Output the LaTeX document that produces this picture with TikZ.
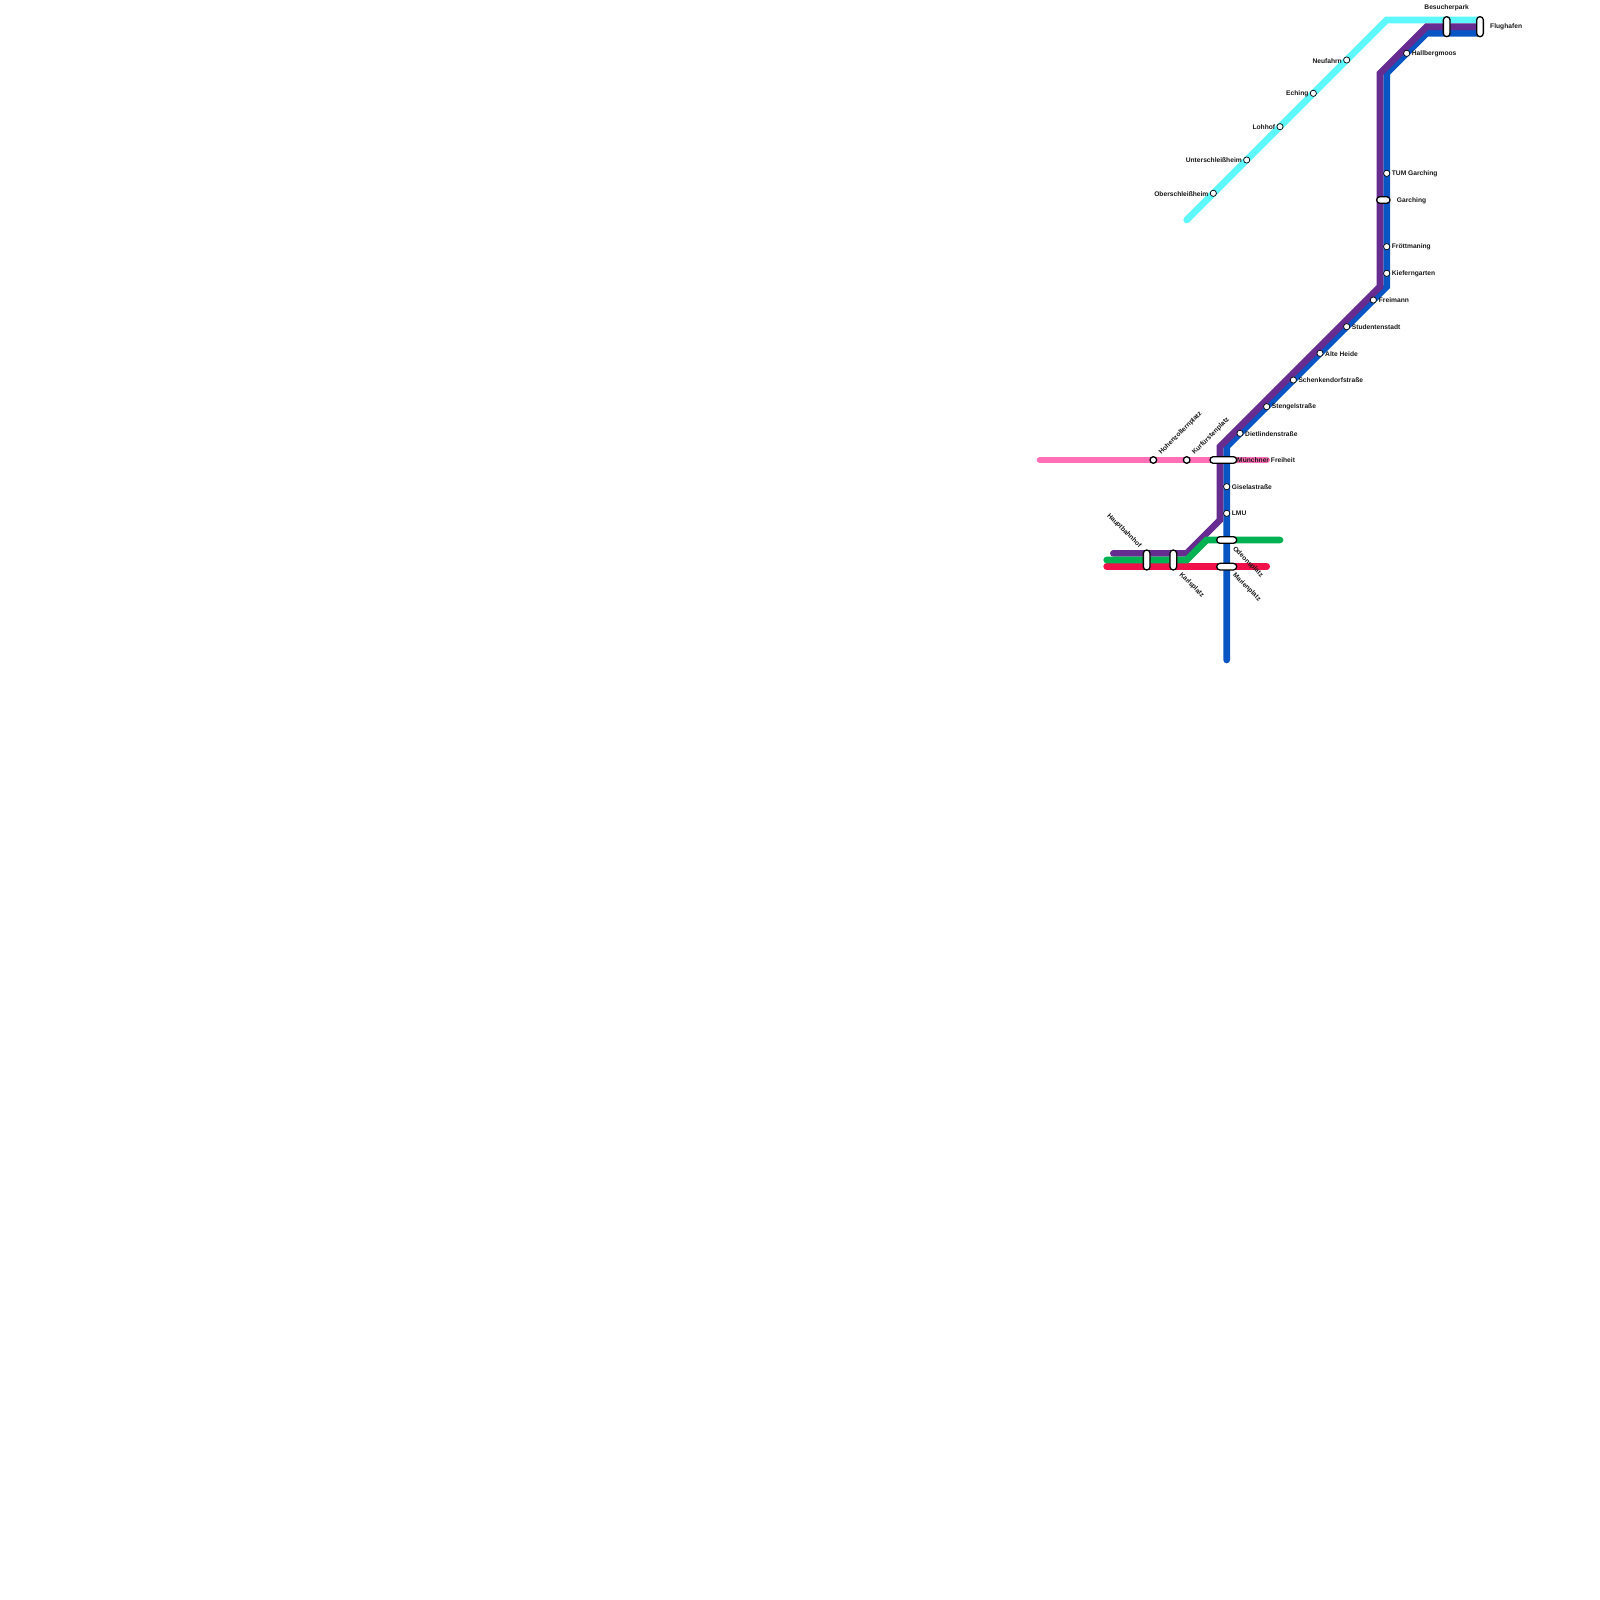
\documentclass[tikz,border=0pt]{standalone}
\usepackage{fontspec}
\setmainfont{Liberation Sans}
\definecolor{lcyan}{HTML}{5CF8FB}
\definecolor{lblue}{HTML}{0A55C4}
\definecolor{lpurple}{HTML}{662C90}
\definecolor{lpink}{HTML}{FF6FB5}
\definecolor{lgreen}{HTML}{00B251}
\definecolor{lred}{HTML}{F0104A}
\tikzset{
  x=1pt,y=-1pt,
  route/.style={line width=6.67pt,line cap=round,line join=miter,miter limit=10},
  stop/.style={circle,draw=black,fill=white,line width=0.7pt,minimum size=6.2pt,inner sep=0pt},
  stopb/.style={stop,line width=1.3pt,minimum size=6.6pt},
  hcap/.style={rectangle,rounded corners=3.3pt,draw=black,fill=white,line width=1.3pt,minimum width=20pt,minimum height=6.67pt,inner sep=0pt},
  vcap/.style={rectangle,rounded corners=3.3pt,draw=black,fill=white,line width=1.3pt,minimum width=6.67pt,minimum height=20pt,inner sep=0pt},
  lab/.style={font=\fontsize{6.67}{8}\selectfont\bfseries,text=black!90,inner sep=0pt,yshift=-0.7pt},
  labr/.style={lab,anchor=west},
  labl/.style={lab,anchor=east},
}
\begin{document}
\begin{tikzpicture}
\useasboundingbox (0,0) rectangle (1600,1600);
\fill[white] (0,0) rectangle (1600,1600);
% route corners
\coordinate (c1) at (1186.67,220);
\coordinate (c2) at (1386.67,20);
\coordinate (c3) at (1480,20);
\coordinate (b1) at (1480,33.33);
\coordinate (b2) at (1426.67,33.33);
\coordinate (b3) at (1386.67,73.33);
\coordinate (b4) at (1386.67,286.67);
\coordinate (b5) at (1226.67,446.67);
\coordinate (b6) at (1226.67,660);
\coordinate (p1) at (1480,26.67);
\coordinate (p2) at (1426.67,26.67);
\coordinate (p3) at (1380,73.33);
\coordinate (p4) at (1380,286.67);
\coordinate (p5) at (1220,446.67);
\coordinate (p6) at (1220,520);
\coordinate (p7) at (1186.67,553.33);
\coordinate (p8) at (1113.33,553.33);
\coordinate (k1) at (1040,460);
\coordinate (k2) at (1266.67,460);
\coordinate (g1) at (1106.67,560);
\coordinate (g2) at (1186.67,560);
\coordinate (g3) at (1206.67,540);
\coordinate (g4) at (1280,540);
\coordinate (r1) at (1106.67,566.67);
\coordinate (r2) at (1266.67,566.67);
% lines
\draw[route,lcyan] (c1) -- (c2) -- (c3);
\draw[route,lblue] (b1) -- (b2) -- (b3) -- (b4) -- (b5) -- (b6);
\draw[route,lpurple] (p1) -- (p2) -- (p3) -- (p4) -- (p5) -- (p6) -- (p7) -- (p8);
\draw[route,lpink] (k1) -- (k2);
\draw[route,lred] (r1) -- (r2);
\draw[route,lgreen] (g1) -- (g2) -- (g3) -- (g4);
% stations
\node[vcap] (flug) at (1480,26.67) {};
\node[vcap] (besu) at (1446.67,26.67) {};
\node[stop] (hall) at (1406.67,53.33) {};
\node[stop] (neuf) at (1346.67,60) {};
\node[stop] (echi) at (1313.33,93.33) {};
\node[stop] (lohh) at (1280,126.67) {};
\node[stop] (unte) at (1246.67,160) {};
\node[stop] (ober) at (1213.33,193.33) {};
\node[stop] (tumg) at (1386.67,173.33) {};
\node[hcap,minimum width=13.33pt] (garc) at (1383.33,200) {};
\node[stop] (froe) at (1386.67,246.67) {};
\node[stop] (kief) at (1386.67,273.33) {};
\node[stop] (frei) at (1373.33,300) {};
\node[stop] (stud) at (1346.67,326.67) {};
\node[stop] (alte) at (1320,353.33) {};
\node[stop] (sche) at (1293.33,380) {};
\node[stop] (sten) at (1266.67,406.67) {};
\node[stop] (diet) at (1240,433.33) {};
\node[hcap,minimum width=26.67pt] (muen) at (1223.33,460) {};
\node[stop] (gise) at (1226.67,486.67) {};
\node[stop] (lmu) at (1226.67,513.33) {};
\node[hcap] (odeo) at (1226.67,540) {};
\node[hcap] (mari) at (1226.67,566.67) {};
\node[stopb] (hohe) at (1153.33,460) {};
\node[stopb] (kurf) at (1186.67,460) {};
\node[vcap] (haup) at (1146.67,560) {};
\node[vcap] (karl) at (1173.33,560) {};
% labels
\node[lab,anchor=center] (tbesu) at (1446.67,7.5) {Besucherpark};
\node[labr] (tflug) at (1490,26) {Flughafen};
\node[labr] (thall) at (1411.67,53) {Hallbergmoos};
\node[labl] (tneuf) at (1342,60) {Neufahrn};
\node[labl] (techi) at (1308.6,93) {Eching};
\node[labl] (tlohh) at (1275.3,126.3) {Lohhof};
\node[labl] (tunte) at (1242,159.6) {Unterschleißheim};
\node[labl] (tober) at (1208.6,193) {Oberschleißheim};
\node[labr] (ttumg) at (1391.67,173) {TUM Garching};
\node[labr] (tgarc) at (1396.67,199.6) {Garching};
\node[labr] (tfroe) at (1391.67,246.3) {Fröttmaning};
\node[labr] (tkief) at (1391.67,273) {Kieferngarten};
\node[labr] (tfrei) at (1378.67,299.6) {Freimann};
\node[labr] (tstud) at (1351.67,326.3) {Studentenstadt};
\node[labr] (talte) at (1325,353) {Alte Heide};
\node[labr] (tsche) at (1298.33,379.6) {Schenkendorfstraße};
\node[labr] (tsten) at (1271.67,406.3) {Stengelstraße};
\node[labr] (tdiet) at (1245,433) {Dietlindenstraße};
\node[labr] (tmuen) at (1237,459.6) {Münchner Freiheit};
\node[labr] (tgise) at (1231.67,486.3) {Giselastraße};
\node[labr] (tlmu) at (1231.67,513) {LMU};
\node[labr,rotate=45] (thohe) at (1160,453) {Hohenzollernplatz};
\node[labr,rotate=45] (tkurf) at (1193.3,453) {Kurfürstenplatz};
\node[labr,rotate=-45] (thaup) at (1108,514) {Hauptbahnhof};
\node[labr,rotate=-45] (tkarl) at (1180.3,573) {Karlsplatz};
\node[labr,rotate=-45] (todeo) at (1233.6,547) {Odeonsplatz};
\node[labr,rotate=-45] (tmari) at (1233.6,573.5) {Marienplatz};
\end{tikzpicture}
\end{document}
